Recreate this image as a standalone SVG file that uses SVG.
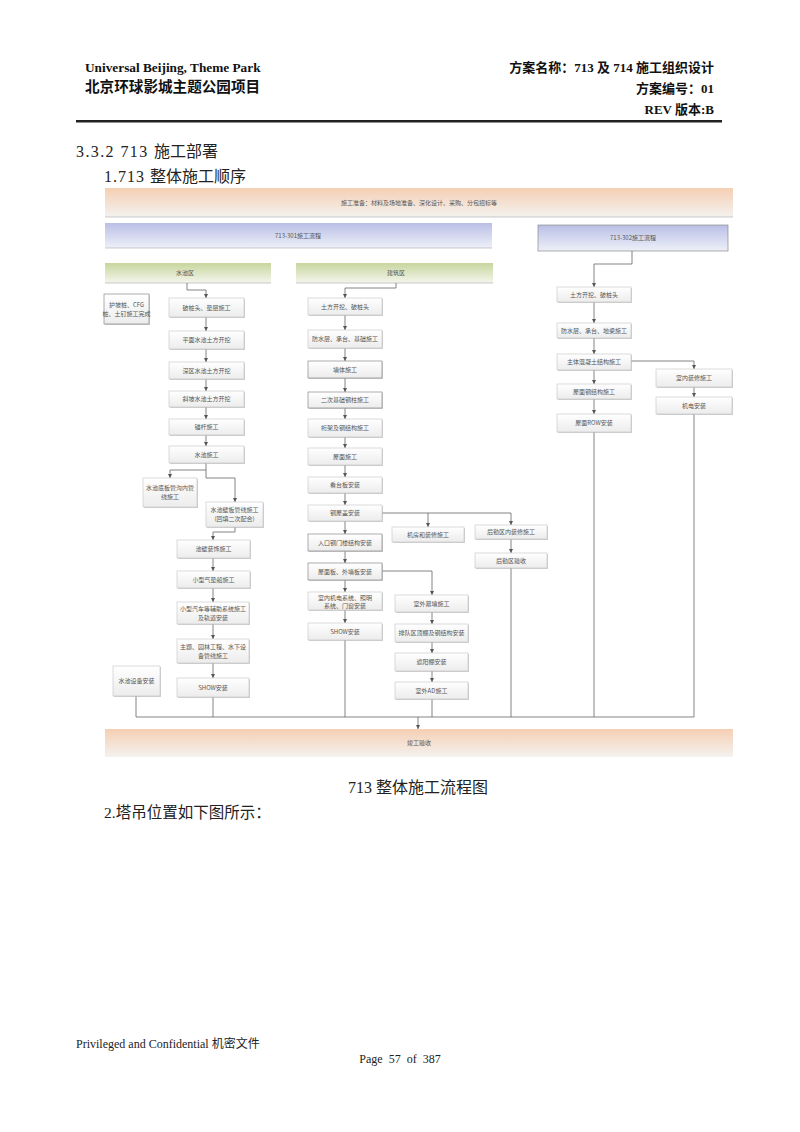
<svg xmlns="http://www.w3.org/2000/svg" width="800" height="1132" viewBox="0 0 800 1132">
<defs>
<linearGradient id="gOr" x1="0" y1="0" x2="0" y2="1"><stop offset="0" stop-color="#f5cfb3"/><stop offset="1" stop-color="#f4f2ef"/></linearGradient>
<linearGradient id="gBl" x1="0" y1="0" x2="0" y2="1"><stop offset="0" stop-color="#b9bfe6"/><stop offset="1" stop-color="#eef0f8"/></linearGradient>
<linearGradient id="gGr" x1="0" y1="0" x2="0" y2="1"><stop offset="0" stop-color="#c8d59e"/><stop offset="1" stop-color="#f4f6ec"/></linearGradient>
<linearGradient id="gBx" x1="0" y1="0" x2="0" y2="1"><stop offset="0" stop-color="#ffffff"/><stop offset="1" stop-color="#ececec"/></linearGradient>
<marker id="ar" viewBox="0 0 6 6" refX="6" refY="3" markerWidth="4.5" markerHeight="4.5" markerUnits="userSpaceOnUse" orient="auto"><path d="M0,0 L6,3 L0,6 z" fill="#555"/></marker>
</defs>
<style>
.hd{font-family:"Liberation Serif","Noto Sans CJK SC",serif;font-weight:bold;fill:#111}
.tx{font-family:"Liberation Serif","Noto Sans CJK SC",serif;fill:#222}
.bt{font-family:"Noto Sans CJK SC",sans-serif;font-size:6px;fill:#555;text-anchor:middle}
.bx{fill:url(#gBx);stroke:#c4c4c4;stroke-width:0.6}
.bd{fill:url(#gBx);stroke:#8a8a8a;stroke-width:0.7}
.sh{fill:#b0b0b0;opacity:0.6}
.cn{fill:none;stroke:#666;stroke-width:0.8}
.ca{fill:none;stroke:#666;stroke-width:0.8;marker-end:url(#ar)}
</style>
<rect width="800" height="1132" fill="#fff"/>
<g id="header">
<text class="hd" x="85" y="72" font-size="13.3">Universal Beijing, Theme Park</text>
<text class="hd" x="85" y="92" font-size="14.6">北京环球影城主题公园项目</text>
<text class="hd" x="714" y="72" font-size="13" text-anchor="end">方案名称：713 及 714 施工组织设计</text>
<text class="hd" x="714" y="93" font-size="13" text-anchor="end">方案编号：01</text>
<text class="hd" x="714" y="114" font-size="13" text-anchor="end">REV 版本:B</text>
<rect x="76" y="120" width="646" height="2.5" fill="#222"/>
</g>
<g id="headings">
<text class="tx" x="76" y="157" font-size="16"><tspan letter-spacing="1.4">3.3.2 713 </tspan>施工部署</text>
<text class="tx" x="104" y="182" font-size="16"><tspan letter-spacing="1">1.713 </tspan>整体施工顺序</text>
<text class="tx" x="418" y="793" font-size="16" text-anchor="middle">713 整体施工流程图</text>
<text class="tx" x="104" y="818" font-size="15.5">2.塔吊位置如下图所示：</text>
</g>
<g id="bars">
<g id="prep"><rect x="105" y="188" width="628" height="29" fill="url(#gOr)"/><line x1="105" y1="217" x2="733" y2="217" stroke="#aaa" stroke-width="0.6"/><text class="bt" x="419" y="205">施工准备：材料及场地准备、深化设计、采购、分包招标等</text></g>
<g id="p301"><rect x="105" y="223" width="387" height="25" fill="url(#gBl)"/><line x1="105" y1="248" x2="492" y2="248" stroke="#aaa" stroke-width="0.6"/><text class="bt" x="298" y="238">713-301施工流程</text></g>
<g id="p302"><rect x="538" y="225" width="190" height="26" fill="url(#gBl)" stroke="#8a8a8a" stroke-width="0.7"/><text class="bt" x="633" y="240">713-302施工流程</text></g>
<g id="zone1"><rect x="105" y="263" width="166" height="20" fill="url(#gGr)"/><line x1="105" y1="283" x2="271" y2="283" stroke="#aaa" stroke-width="0.6"/><text class="bt" x="185" y="275">水池区</text></g>
<g id="zone2"><rect x="296" y="263" width="197" height="20" fill="url(#gGr)"/><line x1="296" y1="283" x2="493" y2="283" stroke="#aaa" stroke-width="0.6"/><text class="bt" x="396" y="275">建筑区</text></g>
<g id="finish"><rect x="105" y="729" width="628" height="28" fill="url(#gOr)"/><text class="bt" x="419" y="745">竣工验收</text></g>
</g>
<g id="connectors">
<path class="ca" d="M187,283 V290 H206 V298"/>
<path class="ca" d="M206,317 V331"/>
<path class="ca" d="M206,349 V362"/>
<path class="ca" d="M206,379 V391"/>
<path class="ca" d="M206,407 V419"/>
<path class="ca" d="M206,435 V446"/>
<path class="ca" d="M206,463 V478 H235 V502"/>
<path class="ca" d="M206,470 H170 V478"/>
<path class="ca" d="M235,527 V532 H213 V540"/>
<path class="ca" d="M213,558 V571"/>
<path class="ca" d="M213,588 V602"/>
<path class="ca" d="M213,624 V639"/>
<path class="ca" d="M213,663 V678"/>
<path class="ca" d="M396,283 V288 H345 V298"/>
<path class="ca" d="M345,315 V330"/>
<path class="ca" d="M345,348 V361"/>
<path class="ca" d="M345,378 V392"/>
<path class="ca" d="M345,408 V419"/>
<path class="ca" d="M345,437 V448"/>
<path class="ca" d="M345,465 V477"/>
<path class="ca" d="M345,493 V505"/>
<path class="ca" d="M345,521 V534"/>
<path class="ca" d="M345,551 V563"/>
<path class="ca" d="M345,580 V592"/>
<path class="ca" d="M345,610 V623"/>
<path class="ca" d="M382,513 H511 V525"/>
<path class="ca" d="M428,513 V527"/>
<path class="ca" d="M511,539 V553"/>
<path class="ca" d="M382,571 H432 V595"/>
<path class="ca" d="M432,612 V624"/>
<path class="ca" d="M432,642 V653"/>
<path class="ca" d="M432,671 V682"/>
<path class="ca" d="M632,251 V264 H594 V287"/>
<path class="ca" d="M594,302 V323"/>
<path class="ca" d="M594,338 V354"/>
<path class="ca" d="M594,370 V384"/>
<path class="ca" d="M594,399 V414"/>
<path class="ca" d="M631,361 H694 V369"/>
<path class="ca" d="M694,387 V397"/>
<path class="cn" d="M136,696 V717 M213,697 V717 M345,640 V717 M432,699 V717 M511,568 V717 M594,432 V717 M694,414 V717 M136,717 H694"/>
<path class="ca" d="M418,717 V729"/>
</g>
<g id="L0"><rect class="sh" x="105" y="295" width="45" height="30"/><rect class="bd" x="104" y="294" width="45" height="30"/><text class="bt" x="126.5" y="307" font-size="4.8">护坡桩、CFG</text><text class="bt" x="126.5" y="315.5" font-size="4.8">桩、土钉施工完成</text></g>
<g id="L1"><rect class="sh" x="170" y="299" width="75" height="19"/><rect class="bx" x="169" y="298" width="75" height="19"/><text class="bt" x="206.5" y="309.5">破桩头、垫层施工</text></g>
<g id="L2"><rect class="sh" x="170" y="332" width="75" height="18"/><rect class="bx" x="169" y="331" width="75" height="18"/><text class="bt" x="206.5" y="342">平面水池土方开挖</text></g>
<g id="L3"><rect class="sh" x="170" y="363" width="75" height="17"/><rect class="bx" x="169" y="362" width="75" height="17"/><text class="bt" x="206.5" y="372.5">深区水池土方开挖</text></g>
<g id="L4"><rect class="sh" x="170" y="392" width="75" height="16"/><rect class="bx" x="169" y="391" width="75" height="16"/><text class="bt" x="206.5" y="401">斜坡水池土方开挖</text></g>
<g id="L5"><rect class="sh" x="170" y="420" width="75" height="16"/><rect class="bx" x="169" y="419" width="75" height="16"/><text class="bt" x="206.5" y="429">锚杆施工</text></g>
<g id="L6"><rect class="sh" x="170" y="447" width="75" height="17"/><rect class="bx" x="169" y="446" width="75" height="17"/><text class="bt" x="206.5" y="456.5">水池施工</text></g>
<g id="L7a"><rect class="sh" x="144" y="479" width="54" height="29"/><rect class="bx" x="143" y="478" width="54" height="29"/><text class="bt" x="170" y="490">水池底板管沟内管</text><text class="bt" x="170" y="499">线施工</text></g>
<g id="L7b"><rect class="sh" x="207" y="503" width="57" height="25"/><rect class="bx" x="206" y="502" width="57" height="25"/><text class="bt" x="234.5" y="512">水池壁板管线施工</text><text class="bt" x="234.5" y="521">(回填二次配合)</text></g>
<g id="L8"><rect class="sh" x="178" y="541" width="73" height="18"/><rect class="bx" x="177" y="540" width="73" height="18"/><text class="bt" x="213.5" y="551">池壁装饰施工</text></g>
<g id="L9"><rect class="sh" x="178" y="572" width="73" height="17"/><rect class="bx" x="177" y="571" width="73" height="17"/><text class="bt" x="213.5" y="581.5">小型气垫船施工</text></g>
<g id="L10"><rect class="sh" x="178" y="603" width="72" height="22"/><rect class="bx" x="177" y="602" width="72" height="22"/><text class="bt" x="213" y="611" font-size="5.6">小型汽车等辅助系统施工</text><text class="bt" x="213" y="620" font-size="5.6">及轨道安装</text></g>
<g id="L11"><rect class="sh" x="178" y="640" width="72" height="24"/><rect class="bx" x="177" y="639" width="72" height="24"/><text class="bt" x="213" y="649" font-size="5.6">主题、园林工程、水下设</text><text class="bt" x="213" y="658" font-size="5.6">备管线施工</text></g>
<g id="L12"><rect class="sh" x="178" y="679" width="72" height="19"/><rect class="bx" x="177" y="678" width="72" height="19"/><text class="bt" x="213" y="689.5">SHOW安装</text></g>
<g id="L13"><rect class="sh" x="114" y="667" width="47" height="30"/><rect class="bx" x="113" y="666" width="47" height="30"/><text class="bt" x="136.5" y="683">水池设备安装</text></g>
<g id="M1"><rect class="sh" x="309" y="299" width="74" height="17"/><rect class="bx" x="308" y="298" width="74" height="17"/><text class="bt" x="345" y="308.5">土方开挖、破桩头</text></g>
<g id="M2"><rect class="sh" x="309" y="331" width="74" height="18"/><rect class="bx" x="308" y="330" width="74" height="18"/><text class="bt" x="345" y="341">防水层、承台、基础施工</text></g>
<g id="M3"><rect class="sh" x="309" y="362" width="74" height="17"/><rect class="bd" x="308" y="361" width="74" height="17"/><text class="bt" x="345" y="371.5">墙体施工</text></g>
<g id="M4"><rect class="sh" x="309" y="393" width="74" height="16"/><rect class="bd" x="308" y="392" width="74" height="16"/><text class="bt" x="345" y="402">二次基础钢柱施工</text></g>
<g id="M5"><rect class="sh" x="309" y="420" width="74" height="18"/><rect class="bx" x="308" y="419" width="74" height="18"/><text class="bt" x="345" y="430">桁架及钢结构施工</text></g>
<g id="M6"><rect class="sh" x="309" y="449" width="74" height="17"/><rect class="bx" x="308" y="448" width="74" height="17"/><text class="bt" x="345" y="458.5">屋面施工</text></g>
<g id="M7"><rect class="sh" x="309" y="478" width="74" height="16"/><rect class="bx" x="308" y="477" width="74" height="16"/><text class="bt" x="345" y="487">看台板安装</text></g>
<g id="M8"><rect class="sh" x="309" y="506" width="74" height="16"/><rect class="bx" x="308" y="505" width="74" height="16"/><text class="bt" x="345" y="515">钢屋盖安装</text></g>
<g id="M9"><rect class="sh" x="309" y="535" width="74" height="17"/><rect class="bd" x="308" y="534" width="74" height="17"/><text class="bt" x="345" y="544.5">入口钢门楼结构安装</text></g>
<g id="M10"><rect class="sh" x="309" y="564" width="74" height="17"/><rect class="bd" x="308" y="563" width="74" height="17"/><text class="bt" x="345" y="573.5">屋面板、外墙板安装</text></g>
<g id="M11"><rect class="sh" x="309" y="593" width="74" height="18"/><rect class="bx" x="308" y="592" width="74" height="18"/><text class="bt" x="345" y="599.5">室内机电系统、照明</text><text class="bt" x="345" y="607.5">系统、门窗安装</text></g>
<g id="M12"><rect class="sh" x="309" y="624" width="74" height="17"/><rect class="bx" x="308" y="623" width="74" height="17"/><text class="bt" x="345" y="633.5">SHOW安装</text></g>
<g id="B1"><rect class="sh" x="393" y="528" width="72" height="15"/><rect class="bx" x="392" y="527" width="72" height="15"/><text class="bt" x="428" y="536.5">机房和装修施工</text></g>
<g id="B2"><rect class="sh" x="476" y="526" width="72" height="14"/><rect class="bx" x="475" y="525" width="72" height="14"/><text class="bt" x="511" y="534">后勤区内装修施工</text></g>
<g id="B3"><rect class="sh" x="476" y="554" width="72" height="15"/><rect class="bx" x="475" y="553" width="72" height="15"/><text class="bt" x="511" y="562.5">后勤区验收</text></g>
<g id="O1"><rect class="sh" x="396" y="596" width="73" height="17"/><rect class="bx" x="395" y="595" width="73" height="17"/><text class="bt" x="431.5" y="605.5">室外幕墙施工</text></g>
<g id="O2"><rect class="sh" x="396" y="625" width="73" height="18"/><rect class="bx" x="395" y="624" width="73" height="18"/><text class="bt" x="431.5" y="635">排队区顶棚及钢结构安装</text></g>
<g id="O3"><rect class="sh" x="396" y="654" width="73" height="18"/><rect class="bx" x="395" y="653" width="73" height="18"/><text class="bt" x="431.5" y="664">遮阳棚安装</text></g>
<g id="O4"><rect class="sh" x="396" y="683" width="73" height="17"/><rect class="bx" x="395" y="682" width="73" height="17"/><text class="bt" x="431.5" y="692.5">室外AD施工</text></g>
<g id="R1"><rect class="sh" x="558" y="288" width="74" height="15"/><rect class="bx" x="557" y="287" width="74" height="15"/><text class="bt" x="594" y="296.5">土方开挖、破桩头</text></g>
<g id="R2"><rect class="sh" x="558" y="324" width="74" height="15"/><rect class="bx" x="557" y="323" width="74" height="15"/><text class="bt" x="594" y="332.5">防水层、承台、地梁施工</text></g>
<g id="R3"><rect class="sh" x="558" y="355" width="74" height="16"/><rect class="bx" x="557" y="354" width="74" height="16"/><text class="bt" x="594" y="364">主体混凝土结构施工</text></g>
<g id="R4"><rect class="sh" x="558" y="385" width="74" height="15"/><rect class="bx" x="557" y="384" width="74" height="15"/><text class="bt" x="594" y="393.5">屋面钢结构施工</text></g>
<g id="R5"><rect class="sh" x="558" y="415" width="74" height="18"/><rect class="bx" x="557" y="414" width="74" height="18"/><text class="bt" x="594" y="425">屋面ROW安装</text></g>
<g id="R6"><rect class="sh" x="657" y="370" width="76" height="18"/><rect class="bx" x="656" y="369" width="76" height="18"/><text class="bt" x="694" y="380">室内装修施工</text></g>
<g id="R7"><rect class="sh" x="657" y="398" width="76" height="17"/><rect class="bx" x="656" y="397" width="76" height="17"/><text class="bt" x="694" y="407.5">机电安装</text></g>
<g id="footer">
<text class="tx" x="76" y="1048" font-size="12">Privileged and Confidential 机密文件</text>
<text class="tx" x="400" y="1063" font-size="12" text-anchor="middle" word-spacing="3">Page 57 of 387</text>
</g>
</svg>
